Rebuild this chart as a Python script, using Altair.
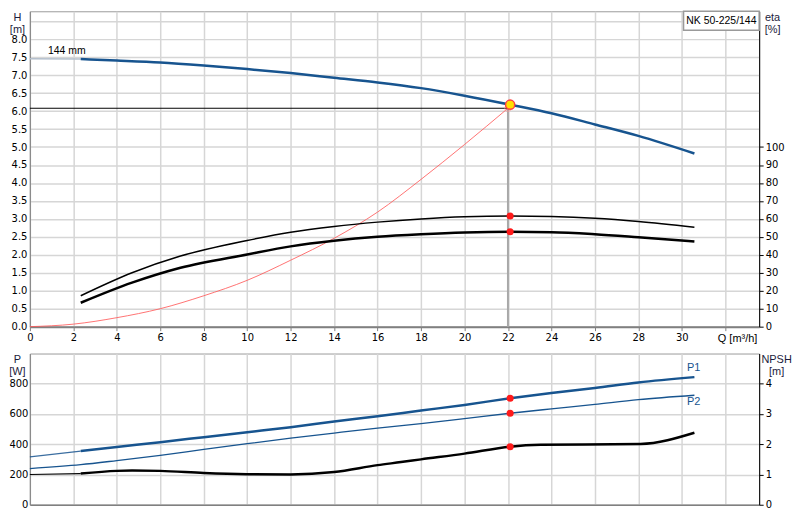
import altair as alt
import pandas as pd

# ---------------- data ----------------
Q_HEAD_EXT = [0.0, 2.34]
H_HEAD_EXT = [7.46, 7.45]
Q_HEAD = [2.34, 4, 6, 8, 10, 12, 14, 16, 18, 20, 22.1, 24, 26, 28, 30.58]
H_HEAD = [7.45, 7.41, 7.355, 7.27, 7.17, 7.06, 6.93, 6.80, 6.64, 6.43, 6.18, 5.94, 5.63, 5.31, 4.82]

Q_ETA = [2.34, 4.7, 6.93, 10, 12, 14, 16, 18, 20, 22.1, 24, 26, 28, 30.58]
ETA_PUMP = [17.2, 30.0, 39.3, 48.0, 52.6, 55.8, 58.2, 60.0, 61.2, 61.6, 61.3, 60.3, 58.5, 55.3]
ETA_TOTAL = [13.3, 24.5, 32.8, 40.2, 44.7, 47.8, 50.0, 51.4, 52.4, 52.8, 52.6, 51.5, 49.8, 47.4]

Q_SYS = [0, 2, 4, 6, 8, 10, 12, 14, 16, 18, 20, 22]
H_SYS = [0.0, 0.07, 0.25, 0.5, 0.86, 1.29, 1.85, 2.46, 3.19, 4.1, 5.07, 6.08]

Q_DUTY = 22.1
H_DUTY = 6.18
ETA_PUMP_DUTY = 61.6
ETA_TOTAL_DUTY = 52.8
Q_REQ = 22.0
H_REQ = 6.08

Q_P1_EXT = [0.0, 2.34]
P1_EXT = [316, 355]
Q_P1 = [2.34, 4, 6, 8, 10, 12, 14, 16, 18, 20, 22.1, 24, 26, 28, 30.58]
P1 = [355, 382, 414, 447, 480, 513, 550, 585, 623, 660, 704, 739, 772, 809, 844]
Q_P2 = [0, 2.34, 4, 6, 8, 10, 12, 14, 16, 18, 20, 22.1, 24, 26, 28, 30.58]
P2 = [239, 265, 292, 327, 366, 404, 440, 474, 507, 537, 570, 605, 634, 664, 695, 724]
P1_DUTY = 704
P2_DUTY = 605

Q_NPSH_EXT = [0.0, 2.34]
NPSH_EXT = [1.0, 1.03]
Q_NPSH = [2.34, 4, 4.7, 6, 8, 10, 12, 14, 16, 17.08, 18, 20, 22.1, 23.5, 28.1, 30.58]
NPSH = [1.03, 1.12, 1.13, 1.12, 1.05, 1.01, 1.0, 1.08, 1.31, 1.41, 1.50, 1.69, 1.92, 1.98, 2.01, 2.38]
NPSH_DUTY = 1.92

X_TICKS = list(range(0, 33, 2))
H_GRID = [i * 0.5 for i in range(0, 18)]
ETA_TICKS = list(range(0, 101, 10))
P_TICKS = [0, 200, 400, 600, 800]
NPSH_TICKS = [0, 1, 2, 3, 4]

TXT_144 = "144 mm"
TXT_MODEL = "NK 50-225/144"
TXT_Q = "Q [m³/h]"

# ---------------- layout / style ----------------
W = 733
H_TOP = 317
H_BOT = 152
X_MAX = 33.56
H_MAX = 8.78
ETA_MAX = H_MAX * 20
P_MAX = 1000
NPSH_MAX = 5

LBL_FONT = "DejaVu Sans"
TXT_FONT = "Liberation Sans"
GRID = "#d6d6d6"
BLUE = "#17548f"
AXGRAY = "#808080"
TITLE_COL = "#1c1c3c"

X_SCALE = alt.Scale(domain=[0, X_MAX], nice=False, zero=False)
H_SCALE = alt.Scale(domain=[0, H_MAX], nice=False)
ETA_SCALE = alt.Scale(domain=[0, ETA_MAX], nice=False)
P_SCALE = alt.Scale(domain=[0, P_MAX], nice=False)
NPSH_SCALE = alt.Scale(domain=[0, NPSH_MAX], nice=False)


def title_kw(x):
    return dict(titleAngle=0, titleX=x, titleY=0, titleAlign="center", titleBaseline="top",
                titleFont=TXT_FONT, titleFontSize=11, titleFontWeight="normal",
                titleColor=TITLE_COL, titleLineHeight=12)


IS32 = "datum.value == 32"
TOP_X_AXIS = alt.Axis(
    values=X_TICKS, title=None, grid=True, gridColor=GRID, gridWidth=1.5,
    domainColor=AXGRAY, domainWidth=2, tickColor=AXGRAY, tickSize=4, labelPadding=2,
    labelFont={"condition": {"test": IS32, "value": TXT_FONT}, "value": LBL_FONT},
    labelFontSize={"condition": {"test": IS32, "value": 11}, "value": 10},
    labelColor="#000",
    labelExpr="datum.value == 32 ? '" + TXT_Q + "' : datum.label",
    labelAlign={"condition": {"test": IS32, "value": "left"}, "value": "center"},
    labelOffset={"condition": {"test": IS32, "value": -8}, "value": 0},
)
BOT_X_AXIS = alt.Axis(
    values=X_TICKS, title=None, grid=True, gridColor=GRID, gridWidth=1.5,
    domainColor=AXGRAY, domainWidth=1.5, ticks=False, labels=False,
)
H_AXIS = alt.Axis(
    values=H_GRID, format=".1f", labelExpr="datum.value > 8.2 ? '' : datum.label",
    grid=True, gridColor=GRID, gridWidth=1.5, ticks=False, labelPadding=3,
    domainColor=AXGRAY, labelFont=LBL_FONT, labelFontSize=10, labelColor="#000",
    title=["H", "[m]"], **title_kw(-13),
)
ETA_AXIS = alt.Axis(
    orient="right", values=ETA_TICKS, grid=False, tickSize=4, tickColor="#000",
    domainColor="#000", labelPadding=2, labelFont=LBL_FONT, labelFontSize=10, labelColor="#000",
    title=["eta", "[%]"], **title_kw(13),
)
P_AXIS = alt.Axis(
    values=P_TICKS, grid=True, gridColor=GRID, gridWidth=1.5, ticks=False, labelPadding=2,
    domainColor=AXGRAY, labelFont=LBL_FONT, labelFontSize=10, labelColor="#000",
    title=["P", "[W]"], **title_kw(-13),
)
NPSH_AXIS = alt.Axis(
    orient="right", values=NPSH_TICKS, grid=False, tickSize=4, tickColor="#000",
    domainColor="#000", labelPadding=2, labelFont=LBL_FONT, labelFontSize=10, labelColor="#000",
    title=["NPSH", "[m]"], **title_kw(17),
)


def df(q, v):
    return pd.DataFrame({"q": q, "v": v})


def enc(chart, xaxis, yscale, yaxis):
    return chart.encode(
        x=alt.X("q:Q", scale=X_SCALE, axis=xaxis),
        y=alt.Y("v:Q", scale=yscale, axis=yaxis),
    )


def line(q, v, color, width, xaxis, yscale, yaxis, opacity=1.0):
    return enc(alt.Chart(df(q, v)).mark_line(color=color, strokeWidth=width, opacity=opacity,
                                             interpolate="monotone"),
               xaxis, yscale, yaxis)


def dots(q, v, xaxis, yscale, yaxis):
    return enc(alt.Chart(df(q, v)).mark_point(filled=True, color="#ff1a1a", size=50, opacity=1),
               xaxis, yscale, yaxis)


# ---------------- top panel ----------------
tx, ty = TOP_X_AXIS, H_AXIS
sys_curve = line(Q_SYS, H_SYS, "#ff5a5a", 1, tx, H_SCALE, ty, 0.85)
req_h = alt.Chart(pd.DataFrame({"q": [0.0], "q2": [Q_REQ], "v": [H_REQ]})).mark_rule(
    color="#000", strokeWidth=1).encode(
    x=alt.X("q:Q", scale=X_SCALE, axis=tx), x2="q2:Q",
    y=alt.Y("v:Q", scale=H_SCALE, axis=ty))
req_v = alt.Chart(pd.DataFrame({"q": [Q_REQ], "v": [0.0], "v2": [H_REQ]})).mark_rule(
    color="#a8a8a8", strokeWidth=2).encode(
    x=alt.X("q:Q", scale=X_SCALE, axis=tx),
    y=alt.Y("v:Q", scale=H_SCALE, axis=ty), y2="v2:Q")
head_ext = line(Q_HEAD_EXT, H_HEAD_EXT, "#b4bfcc", 1.5, tx, H_SCALE, ty)
head = line(Q_HEAD, H_HEAD, BLUE, 2.5, tx, H_SCALE, ty)
req_pt = enc(alt.Chart(df([Q_REQ], [H_REQ])).mark_point(filled=False, color="#ff9090", size=40,
                                                       strokeWidth=1), tx, H_SCALE, ty)
duty_pt = enc(alt.Chart(df([Q_DUTY], [H_DUTY])).mark_point(filled=True, fill="#ffe000",
                                                          stroke="#ff4040", strokeWidth=1.5,
                                                          size=85, opacity=1), tx, H_SCALE, ty)
txt144 = enc(alt.Chart(pd.DataFrame({"q": [1.7], "v": [7.68], "t": [TXT_144]})).mark_text(
    font=TXT_FONT, fontSize=10.5, color="#000", align="center", baseline="middle"),
    tx, H_SCALE, ty).encode(text="t:N")
model_box = alt.Chart(pd.DataFrame({"t": [TXT_MODEL]})).mark_rect(
    fill="white", stroke="#9a9a9a", strokeWidth=1.5).encode(
    x=alt.value(W - 76), x2=alt.value(W), y=alt.value(0), y2=alt.value(19))
model_txt = alt.Chart(pd.DataFrame({"t": [TXT_MODEL]})).mark_text(
    font=TXT_FONT, fontSize=10.5, color="#000", align="center", baseline="middle").encode(
    x=alt.value(W - 38), y=alt.value(10), text="t:N")

h_group = alt.layer(sys_curve, req_h, req_v, head_ext, head, req_pt, duty_pt, txt144,
                    model_box, model_txt)

eta_pump = line(Q_ETA, ETA_PUMP, "#000", 1.5, tx, ETA_SCALE, ETA_AXIS)
eta_total = line(Q_ETA, ETA_TOTAL, "#000", 2.5, tx, ETA_SCALE, ETA_AXIS)
eta_dots = dots([Q_DUTY, Q_DUTY], [ETA_PUMP_DUTY, ETA_TOTAL_DUTY], tx, ETA_SCALE, ETA_AXIS)
eta_group = alt.layer(eta_pump, eta_total, eta_dots)

top = alt.layer(h_group, eta_group).resolve_scale(y="independent").properties(
    width=W, height=H_TOP)

# ---------------- bottom panel ----------------
bx = BOT_X_AXIS
p1_ext = line(Q_P1_EXT, P1_EXT, BLUE, 1.2, bx, P_SCALE, P_AXIS, 0.85)
p1 = line(Q_P1, P1, BLUE, 2.5, bx, P_SCALE, P_AXIS)
p2 = line(Q_P2, P2, BLUE, 1.3, bx, P_SCALE, P_AXIS)
p_dots = dots([Q_DUTY, Q_DUTY], [P1_DUTY, P2_DUTY], bx, P_SCALE, P_AXIS)
p_lbls = enc(alt.Chart(pd.DataFrame({"q": [30.55, 30.55], "v": [901, 678], "t": ["P1", "P2"]}))
             .mark_text(font=TXT_FONT, fontSize=11, color=BLUE, align="center", baseline="middle"),
             bx, P_SCALE, P_AXIS).encode(text="t:N")
p_group = alt.layer(p1_ext, p1, p2, p_dots, p_lbls)

n_ext = line(Q_NPSH_EXT, NPSH_EXT, "#000", 1.2, bx, NPSH_SCALE, NPSH_AXIS)
n_line = line(Q_NPSH, NPSH, "#000", 2.5, bx, NPSH_SCALE, NPSH_AXIS)
n_dot = dots([Q_DUTY], [NPSH_DUTY], bx, NPSH_SCALE, NPSH_AXIS)
n_group = alt.layer(n_ext, n_line, n_dot)

bottom = alt.layer(p_group, n_group).resolve_scale(y="independent").properties(
    width=W, height=H_BOT)

chart = alt.vconcat(top, bottom, spacing=8).properties(
    padding=0, background="white"
).configure_view(stroke="#9a9a9a", strokeWidth=1)

chart.save("out.html", embed_options={"renderer": "svg", "actions": False})
